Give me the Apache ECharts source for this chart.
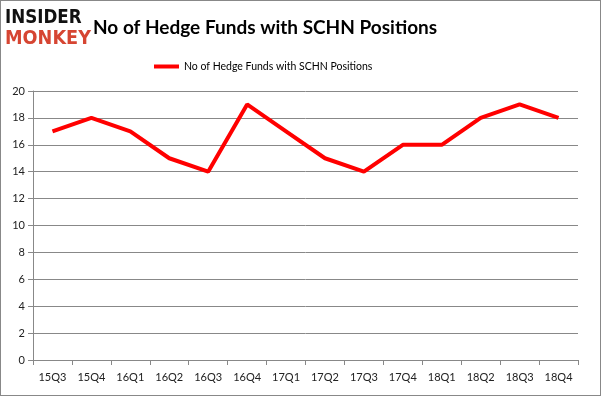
<!DOCTYPE html>
<html><head><meta charset="utf-8">
<script src="https://cdn.jsdelivr.net/npm/echarts@6/dist/echarts.min.js"></script>
<style>html,body{margin:0;padding:0;background:#fff}#c{width:601px;height:396px;box-sizing:border-box;border:1px solid #888}</style>
</head><body><div id="c"></div>
<script>
const categories = ['15Q3','15Q4','16Q1','16Q2','16Q3','16Q4','17Q1','17Q2','17Q3','17Q4','18Q1','18Q2','18Q3','18Q4'];
const hedgeFunds = [17,18,17,15,14,19,17,15,14,16,16,18,19,18];
const seriesName = 'No of Hedge Funds with SCHN Positions';
const chart = echarts.init(document.getElementById('c'));
const font = 'Lato, "Open Sans", sans-serif';
chart.setOption({
  animation:false,
  title:{text:'No of Hedge Funds with SCHN Positions',left:87,top:12,textStyle:{fontFamily:font,fontSize:19,fontWeight:'bold',color:'#000'}},
  legend:{top:55,left:148,itemWidth:25,itemHeight:4,icon:'rect',itemGap:3,textStyle:{fontFamily:font,fontSize:10.5,color:'#000'},data:[seriesName]},
  graphic:[
    {type:'text',x:4,y:8,scaleX:0.88,style:{text:'INSIDER',fontFamily:'"DejaVu Sans", sans-serif',fontWeight:'900',fontSize:19,fill:'#111'}},
    {type:'text',x:4,y:29,scaleX:0.93,style:{text:'MONKEY',fontFamily:'"DejaVu Sans", sans-serif',fontWeight:'900',fontSize:19,fill:'#d64532'}}
  ],
  grid:{left:32,right:22,top:90,bottom:35,containLabel:false},
  xAxis:{type:'category',data:categories,boundaryGap:true,
    axisLine:{lineStyle:{color:'#888'}},axisTick:{show:true,length:5,interval:0,lineStyle:{color:'#888'}},
    axisLabel:{fontFamily:font,fontSize:11,color:'#222',margin:12,interval:0}},
  yAxis:{type:'value',min:0,max:20,interval:2,
    axisLine:{show:true,lineStyle:{color:'#888'}},axisTick:{show:true,length:5,lineStyle:{color:'#888'}},
    splitLine:{lineStyle:{color:'#888'}},
    axisLabel:{fontFamily:font,fontSize:11,color:'#222',margin:8}},
  series:[{name:seriesName,type:'line',data:hedgeFunds,symbol:'none',lineStyle:{color:'#ff0000',width:4},itemStyle:{color:'#ff0000'}}]
});
</script></body></html>
